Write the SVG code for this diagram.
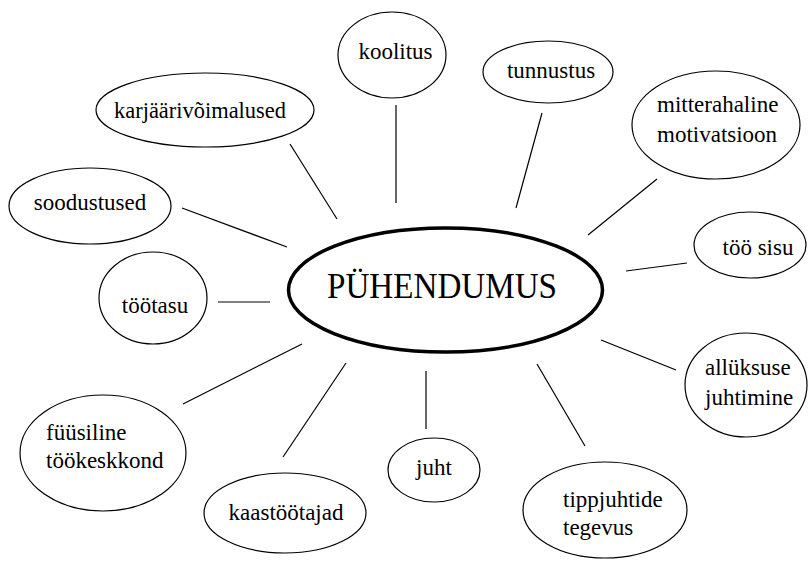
<svg xmlns="http://www.w3.org/2000/svg" width="811" height="561" viewBox="0 0 811 561">
<style>
.n{fill:#fff;stroke:#000;stroke-width:1.2}
.c{fill:#fff;stroke:#000;stroke-width:3.5}
.t{font-family:'Times New Roman','Liberation Serif','DejaVu Serif',serif;font-size:23px;fill:#000}
.m{text-anchor:middle}
.big{font-size:36px}
#edges line{stroke:#000;stroke-width:1.2}
</style>
<rect width="811" height="561" fill="#fff"/>
<g id="edges">
<line x1="396" y1="105" x2="396" y2="203"/>
<line x1="290" y1="144" x2="337" y2="219"/>
<line x1="182" y1="208" x2="287" y2="247"/>
<line x1="542" y1="113" x2="516" y2="208"/>
<line x1="657" y1="179" x2="588" y2="235"/>
<line x1="626" y1="271" x2="687" y2="263"/>
<line x1="218" y1="302" x2="270" y2="302"/>
<line x1="183" y1="404" x2="302" y2="344"/>
<line x1="283" y1="457" x2="346" y2="363"/>
<line x1="426" y1="371" x2="426" y2="429"/>
<line x1="537" y1="364" x2="585" y2="446"/>
<line x1="601" y1="340" x2="676" y2="370"/>
</g>
<g id="center">
<ellipse class="c" cx="445.5" cy="290" rx="157" ry="62"/>
<text class="t m big" x="442" y="298" textLength="230" lengthAdjust="spacingAndGlyphs">PÜHENDUMUS</text>
</g>
<g id="koolitus">
<ellipse class="n" cx="392" cy="55" rx="54" ry="43"/>
<text class="t m" x="395.5" y="59">koolitus</text>
</g>
<g id="karjaar">
<ellipse class="n" cx="205" cy="110" rx="109" ry="37"/>
<text class="t m" x="200" y="118" textLength="172" lengthAdjust="spacingAndGlyphs">karjäärivõimalused</text>
</g>
<g id="soodustused">
<ellipse class="n" cx="90" cy="206" rx="81" ry="38"/>
<text class="t m" x="90" y="210">soodustused</text>
</g>
<g id="tunnustus">
<ellipse class="n" cx="548" cy="72" rx="65" ry="31"/>
<text class="t m" x="551" y="78">tunnustus</text>
</g>
<g id="mitterahaline">
<ellipse class="n" cx="716" cy="125" rx="84" ry="54"/>
<text class="t" x="657" y="112">mitterahaline</text>
<text class="t" x="657" y="142">motivatsioon</text>
</g>
<g id="toosisu">
<ellipse class="n" cx="750" cy="245" rx="56" ry="33"/>
<text class="t m" x="758" y="255">töö sisu</text>
</g>
<g id="tootasu">
<ellipse class="n" cx="153" cy="298" rx="54" ry="46"/>
<text class="t m" x="155" y="313">töötasu</text>
</g>
<g id="fyysiline">
<ellipse class="n" cx="103" cy="453" rx="83" ry="58"/>
<text class="t" x="46" y="440">füüsiline</text>
<text class="t" x="46" y="468">töökeskkond</text>
</g>
<g id="kaastootajad">
<ellipse class="n" cx="285" cy="513" rx="81" ry="40"/>
<text class="t m" x="286" y="520">kaastöötajad</text>
</g>
<g id="juht">
<ellipse class="n" cx="434" cy="470" rx="46" ry="32"/>
<text class="t m" x="434" y="475">juht</text>
</g>
<g id="tippjuhtide">
<ellipse class="n" cx="605" cy="510" rx="82" ry="48"/>
<text class="t" x="563" y="507">tippjuhtide</text>
<text class="t" x="563" y="535">tegevus</text>
</g>
<g id="alluksuse">
<ellipse class="n" cx="746" cy="385" rx="61" ry="52"/>
<text class="t" x="705" y="375">allüksuse</text>
<text class="t" x="705" y="405">juhtimine</text>
</g>
</svg>
